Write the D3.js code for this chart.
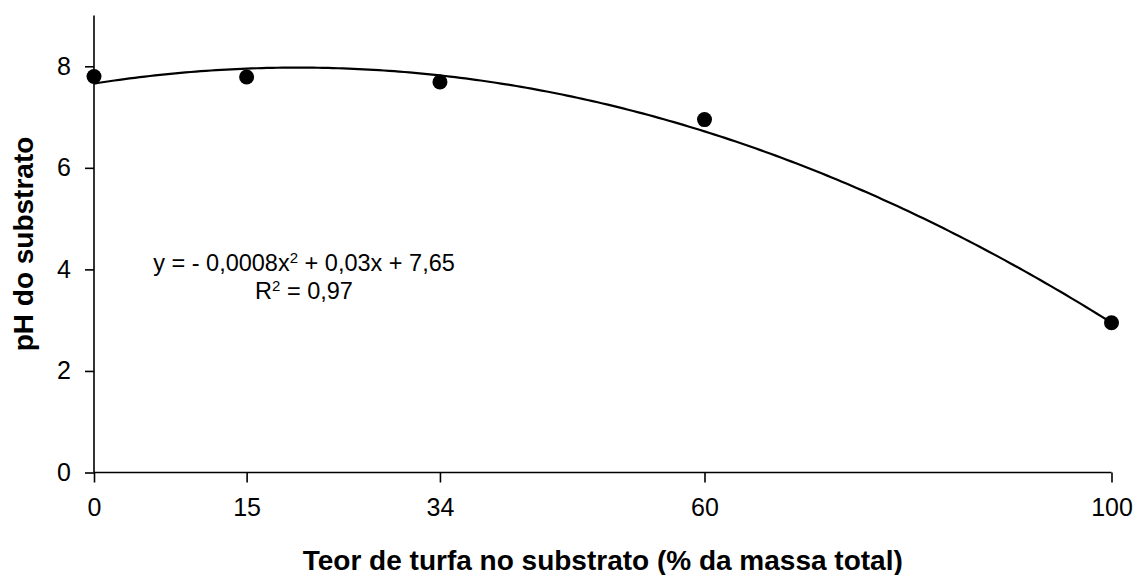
<!DOCTYPE html>
<html>
<head>
<meta charset="utf-8">
<script src="https://cdn.jsdelivr.net/npm/d3@7"></script>
<style>
  body { margin: 0; background: #fff; }
  text { font-family: "Liberation Sans", Arial, sans-serif; fill: #000; }
</style>
</head>
<body>
<script>
// data
var turfa = [0, 15, 34, 60, 100];
var ph = [7.80, 7.79, 7.69, 6.95, 2.95];
var xTicks = [0, 15, 34, 60, 100];
var yTicks = [0, 2, 4, 6, 8];
// quadratic trendline: c0 + c1*x + c2*x^2
var coef = [7.66, 0.0314, -0.000785];
var eqLine1 = ['y = - 0,0008x', '2', ' + 0,03x + 7,65'];
var eqLine2 = ['R', '2', ' = 0,97'];

var W = 1138, H = 575;
var svg = d3.select('body').append('svg')
  .attr('width', W)
  .attr('height', H);

var x = d3.scaleLinear().domain([0, 100]).range([94, 1111.5]);
var y = d3.scaleLinear().domain([0, 9]).range([472.5, 15.5]);

// axes
var xAxis = svg.append('g')
  .attr('transform', 'translate(0,' + y(0) + ')')
  .call(d3.axisBottom(x).tickValues(xTicks).tickSize(10).tickPadding(16).tickSizeOuter(0));
var yAxis = svg.append('g')
  .attr('transform', 'translate(' + x(0) + ',0)')
  .call(d3.axisLeft(y).tickValues(yTicks).tickSize(9).tickPadding(14).tickSizeOuter(0));

svg.selectAll('.domain').attr('stroke', '#000').attr('stroke-width', 1.6);
svg.selectAll('.tick line').attr('stroke', '#000').attr('stroke-width', 1.6);
svg.selectAll('.tick text')
  .style('font-family', '"Liberation Sans", Arial, sans-serif')
  .style('font-size', '25px')
  .attr('fill', '#000');
// y axis line reaches the top of the plot
yAxis.select('.domain').attr('d', 'M0,' + y(0) + 'V' + y(9));
xAxis.select('.domain').attr('d', 'M0,0H' + (x(100) - x(0)));
xAxis.select('.domain').attr('transform', 'translate(' + x(0) + ',0)');

// trendline
var xs = d3.range(0, 100.5, 0.5);
var line = d3.line()
  .x(function (d) { return x(d); })
  .y(function (d) { return y(coef[0] + coef[1] * d + coef[2] * d * d); });
svg.append('path')
  .datum(xs)
  .attr('d', line)
  .attr('fill', 'none')
  .attr('stroke', '#000')
  .attr('stroke-width', 2.2);

// points
svg.selectAll('circle.pt')
  .data(turfa)
  .enter()
  .append('circle')
  .attr('class', 'pt')
  .attr('cx', function (d) { return x(d); })
  .attr('cy', function (d, i) { return y(ph[i]); })
  .attr('r', 7.5)
  .attr('fill', '#000');

// equation
function eq(parts, ty) {
  var t = svg.append('text')
    .attr('x', 304)
    .attr('y', ty)
    .attr('text-anchor', 'middle')
    .style('font-size', '23.5px');
  t.append('tspan').text(parts[0]);
  t.append('tspan').attr('dy', -8).style('font-size', '15px').text(parts[1]);
  t.append('tspan').attr('dy', 8).text(parts[2]);
}
eq(eqLine1, 271);
eq(eqLine2, 299);

// axis titles
svg.append('text')
  .attr('x', (x(0) + x(100)) / 2)
  .attr('y', 570)
  .attr('text-anchor', 'middle')
  .style('font-size', '28px')
  .style('font-weight', 'bold')
  .text('Teor de turfa no substrato (% da massa total)');
svg.append('text')
  .attr('transform', 'translate(33,' + 244 + ') rotate(-90)')
  .attr('text-anchor', 'middle')
  .style('font-size', '28px')
  .style('font-weight', 'bold')
  .text('pH do substrato');
</script>
</body>
</html>
